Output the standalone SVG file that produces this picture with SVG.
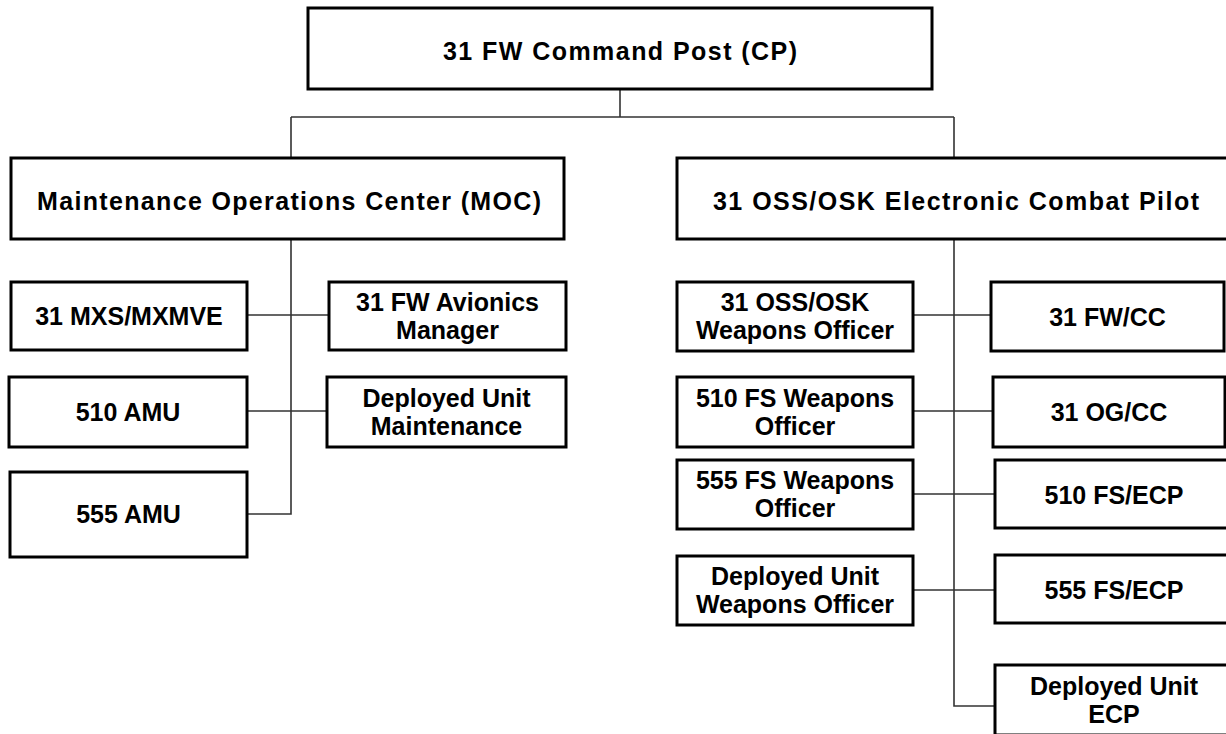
<svg xmlns="http://www.w3.org/2000/svg" width="1226" height="734" viewBox="0 0 1226 734">
<style>
.box{fill:#fff;stroke:#000;stroke-width:3}
.t{font-family:"Liberation Sans",Arial,sans-serif;font-weight:bold;font-size:25px;fill:#000;text-anchor:middle}
.c{fill:none;stroke:#333;stroke-width:1.6}
</style>
<rect width="1226" height="734" fill="#fff"/>
<g id="connectors">
<path class="c" d="M620,89 V117 M291,117 H954 M291,117 V158 M954,117 V158"/>
<path class="c" d="M291,239 V514 H247 M247,315 H329 M247,411 H327"/>
<path class="c" d="M954,239 V706 H995 M913,315 H991 M913,411 H993 M913,494 H995 M913,590 H995"/>
</g>
<g id="cp"><rect class="box" x="308" y="8" width="624" height="81"/><text class="t" x="620" y="60" textLength="354" lengthAdjust="spacing">31 FW Command Post (CP)</text></g>
<g id="moc"><rect class="box" x="11" y="158" width="553" height="81"/><text class="t" x="289" y="210" textLength="504" lengthAdjust="spacing">Maintenance Operations Center (MOC)</text></g>
<g id="ecpilot"><rect class="box" x="677" y="158" width="560" height="81"/><text class="t" x="956" y="210" textLength="486" lengthAdjust="spacing">31 OSS/OSK Electronic Combat Pilot</text></g>
<g id="mxs"><rect class="box" x="11" y="282" width="236" height="68"/><text class="t" x="129" y="325">31 MXS/MXMVE</text></g>
<g id="avionics"><rect class="box" x="329" y="282" width="237" height="68"/><text class="t" x="447.5" y="311">31 FW Avionics</text><text class="t" x="447.5" y="339">Manager</text></g>
<g id="amu510"><rect class="box" x="9" y="377" width="238" height="70"/><text class="t" x="128" y="421">510 AMU</text></g>
<g id="dum"><rect class="box" x="327" y="377" width="239" height="70"/><text class="t" x="446.5" y="407">Deployed Unit</text><text class="t" x="446.5" y="435">Maintenance</text></g>
<g id="amu555"><rect class="box" x="10" y="472" width="237" height="85"/><text class="t" x="128.5" y="523">555 AMU</text></g>
<g id="wo31"><rect class="box" x="677" y="282" width="236" height="69"/><text class="t" x="795" y="311">31 OSS/OSK</text><text class="t" x="795" y="339">Weapons Officer</text></g>
<g id="fwcc"><rect class="box" x="991" y="282" width="233" height="69"/><text class="t" x="1107.5" y="326">31 FW/CC</text></g>
<g id="wo510"><rect class="box" x="677" y="377" width="236" height="70"/><text class="t" x="795" y="407">510 FS Weapons</text><text class="t" x="795" y="435">Officer</text></g>
<g id="ogcc"><rect class="box" x="993" y="377" width="232" height="70"/><text class="t" x="1109" y="421">31 OG/CC</text></g>
<g id="wo555"><rect class="box" x="677" y="460" width="236" height="69"/><text class="t" x="795" y="489">555 FS Weapons</text><text class="t" x="795" y="517">Officer</text></g>
<g id="ecp510"><rect class="box" x="995" y="460" width="240" height="68"/><text class="t" x="1114" y="504">510 FS/ECP</text></g>
<g id="wodu"><rect class="box" x="677" y="556" width="236" height="69"/><text class="t" x="795" y="585">Deployed Unit</text><text class="t" x="795" y="613">Weapons Officer</text></g>
<g id="ecp555"><rect class="box" x="995" y="555" width="240" height="68"/><text class="t" x="1114" y="599">555 FS/ECP</text></g>
<g id="ecpdu"><rect class="box" x="995" y="665" width="240" height="70"/><text class="t" x="1114" y="695">Deployed Unit</text><text class="t" x="1114" y="723">ECP</text></g>
</svg>
